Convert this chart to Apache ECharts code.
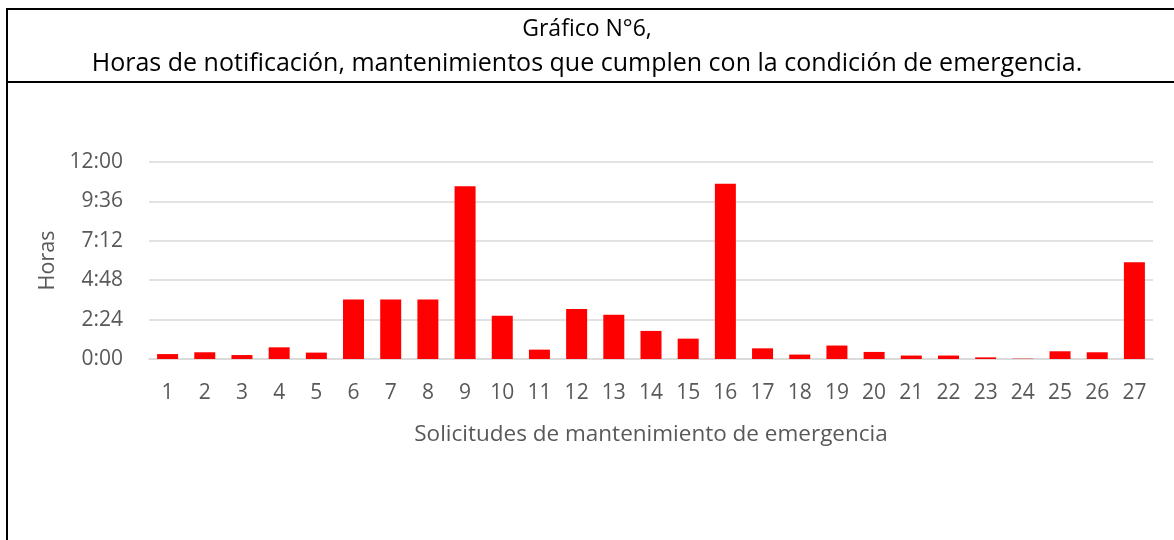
<!DOCTYPE html>
<html>
<head>
<meta charset="utf-8">
<script src="https://cdn.jsdelivr.net/npm/echarts@6/dist/echarts.min.js"></script>
<style>
  html, body { margin: 0; padding: 0; background: #fff; }
  #chart { width: 1174px; height: 540px; }
</style>
</head>
<body>
<div id="chart"></div>
<script>
  // solicitudes 1..27
  var categories = ['1', '2', '3', '4', '5', '6', '7', '8', '9', '10', '11', '12', '13', '14',
    '15', '16', '17', '18', '19', '20', '21', '22', '23', '24', '25', '26', '27']
  // horas de notificación (en horas decimales)
  var horas = [0.30, 0.41, 0.24, 0.71, 0.39, 3.63, 3.63, 3.63, 10.52, 2.64, 0.57, 3.05, 2.70, 1.71,
    1.24, 10.68, 0.65, 0.27, 0.82, 0.43, 0.21, 0.21, 0.10, 0.02, 0.47, 0.41, 5.89]
  var titulo1 = 'Gráfico N°6,'
  var titulo2 = 'Horas de notificación, mantenimientos que cumplen con la condición de emergencia.'

  //horas decimales -> h:mm
  function hhmm (v) {
    var total = Math.round(v * 60)
    var h = Math.floor(total / 60)
    var m = total % 60
    return h + ':' + (m < 10 ? '0' + m : m)
  }

  var font = '"Open Sans", "Noto Sans", sans-serif'
  var myChart = echarts.init(document.getElementById('chart'))
  var option = {
    animation: false,
    textStyle: {fontFamily: font},
    graphic: [
      {type: 'line', shape: {x1: 6, y1: 9, x2: 1174, y2: 9}, style: {stroke: '#000', lineWidth: 2}},
      {type: 'line', shape: {x1: 6, y1: 82, x2: 1174, y2: 82}, style: {stroke: '#000', lineWidth: 2}},
      {type: 'line', shape: {x1: 7, y1: 8, x2: 7, y2: 540}, style: {stroke: '#000', lineWidth: 2}},
      {type: 'text', left: 'center', top: 18, style: {text: titulo1, font: '23px ' + font, fill: '#000'}},
      {type: 'text', left: 'center', top: 51, style: {text: titulo2, font: '25px ' + font, fill: '#000'}}
    ],
    grid: {left: 149, right: 21, top: 162, bottom: 181},
    xAxis: {
      type: 'category',
      data: categories,
      name: 'Solicitudes de mantenimiento de emergencia',
      nameLocation: 'middle',
      nameGap: 64,
      nameTextStyle: {color: '#595959', fontSize: 22.5},
      axisLine: {lineStyle: {color: '#d9d9d9', width: 1.5}},
      axisTick: {show: false},
      axisLabel: {color: '#595959', fontSize: 21, margin: 24}
    },
    yAxis: {
      type: 'value',
      min: 0,
      max: 12,
      interval: 2.4,
      name: 'Horas',
      nameLocation: 'middle',
      nameGap: 90,
      nameTextStyle: {color: '#595959', fontSize: 21.5},
      axisLine: {show: false},
      axisTick: {show: false},
      splitLine: {lineStyle: {color: '#d9d9d9', width: 1.5}},
      axisLabel: {color: '#595959', fontSize: 21, margin: 26, formatter: hhmm}
    },
    series: [{
      type: 'bar',
      data: horas,
      barWidth: 21,
      itemStyle: {color: '#ff0000'}
    }]
  }
  myChart.setOption(option)
</script>
</body>
</html>
